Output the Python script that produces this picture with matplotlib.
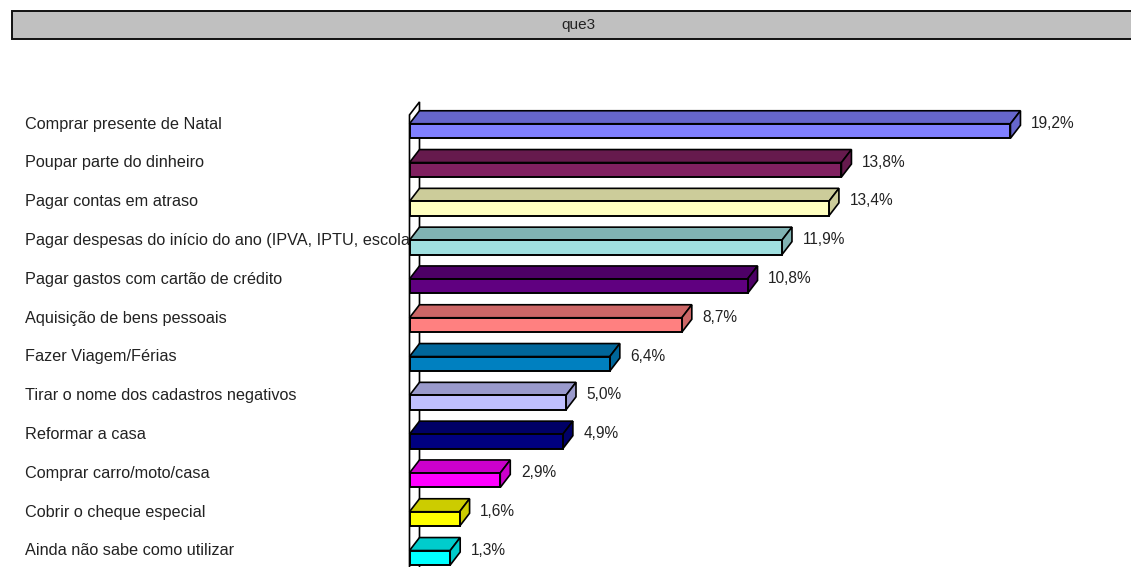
import matplotlib
matplotlib.use("Agg")
import matplotlib.pyplot as plt
from matplotlib.patches import Polygon, Rectangle

plt.rcParams['font.family'] = ['Liberation Sans', 'DejaVu Sans']

title = "que3"
categories = ["Comprar presente de Natal", "Poupar parte do dinheiro", "Pagar contas em atraso",
              "Pagar despesas do início do ano (IPVA, IPTU, escola", "Pagar gastos com cartão de crédito",
              "Aquisição de bens pessoais", "Fazer Viagem/Férias", "Tirar o nome dos cadastros negativos",
              "Reformar a casa", "Comprar carro/moto/casa", "Cobrir o cheque especial",
              "Ainda não sabe como utilizar"]
values = [19.2, 13.8, 13.4, 11.9, 10.8, 8.7, 6.4, 5.0, 4.9, 2.9, 1.6, 1.3]
colors = ["#8080FF", "#802060", "#FFFFC0", "#A0E0E0", "#600080", "#FF8080",
          "#0080C0", "#C0C0FF", "#000080", "#FF00FF", "#FFFF00", "#00FFFF"]

W, H = 1131, 567
X0, SX = 409.5, 31.3      # pixel of 0 %, pixels per %
Y0, SY = 131.0, 38.8      # pixel of first category, pixels per category
DX, DY = 10 / SX, 13 / SY  # depth of the 3D effect in data units
BH = 14.5 / SY             # bar thickness

fig = plt.figure(figsize=(W / 100, H / 100), dpi=100)
ax = fig.add_axes([0, 0, 1, 1])
ax.set_xlim(-X0 / SX, (W - X0) / SX)
ax.set_ylim((H - Y0) / SY, -Y0 / SY)
ax.axis("off")

def shade(c, f):
    r, g, b = matplotlib.colors.to_rgb(c)
    return (r * f, g * f, b * f)

n = len(values)
bottom = n - 0.2 + 0.5
top_wall = -0.75

# Background wall of the category axis
ax.add_patch(Polygon([(0, bottom), (0, top_wall + DY), (DX, top_wall), (DX, bottom)],
                     closed=True, fc="white", ec="black", lw=1.2, zorder=2, clip_on=True))

for i, (v, c) in enumerate(zip(values, colors)):
    yt, yb = i - BH / 2, i + BH / 2
    ax.add_patch(Polygon([(0, yt), (DX, yt - DY), (v + DX, yt - DY), (v, yt)],
                         closed=True, fc=shade(c, 0.8), ec="black", lw=1.2, zorder=3))
    ax.add_patch(Polygon([(v, yt), (v + DX, yt - DY), (v + DX, yb - DY), (v, yb)],
                         closed=True, fc=shade(c, 0.8), ec="black", lw=1.2, zorder=3))
    ax.add_patch(Rectangle((0, yt), v, BH, fc=c, ec="black", lw=1.4, zorder=4))
    ax.text(v + DX + 10.5 / SX, i - 0.2, f"{v:.1f}%".replace(".", ","),
            fontsize=11.2, va="center", ha="left", color="#222222", zorder=5)
    ax.text(-X0 / SX + 25 / SX, i - 0.18, categories[i],
            fontsize=11.7, va="center", ha="left", color="#222222", zorder=1)

# Title band, running past the right edge of the figure
ax.add_patch(Rectangle((-X0 / SX + 11.5 / SX, (10.5 - Y0) / SY), 1200 / SX, 28 / SY,
                       fc="#C0C0C0", ec="#111111", lw=1.4, zorder=1))
ax.text((578 - X0) / SX, (25.5 - Y0) / SY, title, fontsize=11, ha="center", va="center",
        color="#222222", zorder=2)

fig.savefig("out.png", dpi=100)
